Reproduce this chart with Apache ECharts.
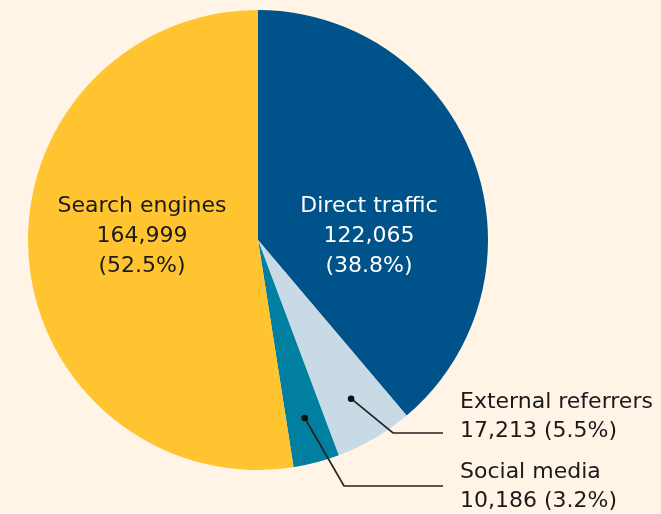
<!DOCTYPE html>
<html>
<head>
<meta charset="utf-8">
<script src="https://cdn.jsdelivr.net/npm/echarts@6/dist/echarts.min.js"></script>
<style>
  html, body { margin: 0; padding: 0; background: #fff4e6; }
  #chart { width: 661px; height: 514px; }
</style>
</head>
<body>
<div id="chart"></div>
<script>
// traffic sources, clockwise from 12 o'clock
const categories = ['Direct traffic', 'External referrers', 'Social media', 'Search engines'];
const visits = [122065, 17213, 10186, 164999];
const colors = ['#00528a', '#c8dae5', '#007fa0', '#ffc430'];

const FONT = '"DejaVu Sans", sans-serif';
const CX = 258, CY = 240, R = 230;

const total = visits.reduce((a, b) => a + b, 0);
const pct = v => (v / total * 100).toFixed(1) + '%';
const fmt = v => v.toLocaleString('en-US');

// mid angle of each slice (degrees clockwise from top), used for the leader dots
const midAngles = [];
let acc = 0;
visits.forEach(v => {
  const a = v / total * 360;
  midAngles.push(acc + a / 2);
  acc += a;
});
const dotAt = (i, r) => {
  const t = midAngles[i] * Math.PI / 180;
  return [CX + r * Math.sin(t), CY - r * Math.cos(t)];
};

// label spots (layout only)
const insideSpot = { 0: [369, 236], 3: [142, 236] };
const outsideSpot = {
  1: { x: 460, y: 417, bend: [393, 433], end: 443 },
  2: { x: 460, y: 487, bend: [344, 486], end: 443 }
};

const data = categories.map((name, i) => {
  const inside = insideSpot[i] !== undefined;
  return {
    name: name,
    value: visits[i],
    itemStyle: { color: colors[i] },
    label: inside ? {
      position: 'inside',
      formatter: p => p.name + '\n' + fmt(p.value) + '\n(' + pct(p.value) + ')',
      color: i === 0 ? '#ffffff' : '#1a1a1a',
      fontSize: 22,
      lineHeight: 30,
      align: 'center'
    } : {
      position: 'outside',
      formatter: p => p.name + '\n' + fmt(p.value) + ' (' + pct(p.value) + ')',
      color: '#1a1a1a',
      fontSize: 22,
      lineHeight: 29,
      align: 'left'
    },
    labelLine: { show: false }
  };
});

// leader lines + dots for the two small slices
const leaders = [];
[1, 2].forEach(i => {
  const s = outsideSpot[i];
  const d = dotAt(i, 0.8 * R);
  leaders.push({
    type: 'polyline',
    shape: { points: [d, s.bend, [s.end, s.bend[1]]] },
    style: { stroke: '#222', lineWidth: 1.7, fill: null },
    z: 100
  });
  leaders.push({
    type: 'circle',
    shape: { cx: d[0], cy: d[1], r: 3.3 },
    style: { fill: '#111' },
    z: 101
  });
});

const chart = echarts.init(document.getElementById('chart'));
chart.setOption({
  backgroundColor: '#fff4e6',
  animation: false,
  textStyle: { fontFamily: FONT },
  series: [{
    type: 'pie',
    center: [CX, CY],
    radius: R,
    startAngle: 90,
    clockwise: true,
    avoidLabelOverlap: false,
    silent: true,
    data: data,
    label: { fontFamily: FONT },
    labelLayout: function (params) {
      const i = params.dataIndex;
      if (insideSpot[i]) {
        return { x: insideSpot[i][0], y: insideSpot[i][1], align: 'center', verticalAlign: 'middle' };
      }
      const s = outsideSpot[i];
      return { x: s.x, y: s.y, align: 'left', verticalAlign: 'middle' };
    }
  }],
  graphic: leaders
});
</script>
</body>
</html>
